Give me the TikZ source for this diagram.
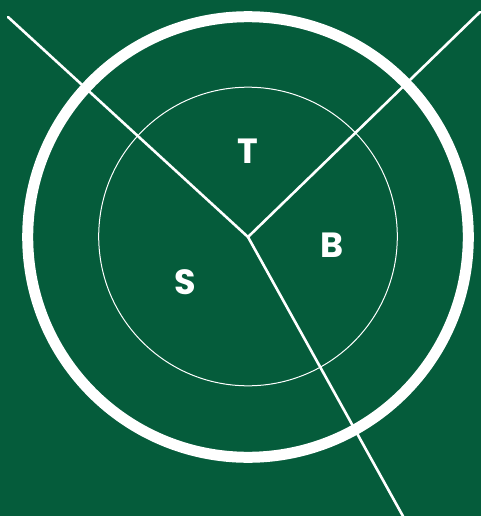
\documentclass[tikz,border=0pt]{standalone}
\usepackage{fontspec}
\setmainfont{Poppins}
\definecolor{bggreen}{RGB}{5,92,59}
\begin{document}
\begin{tikzpicture}[x=1pt,y=-1pt,
  spoke/.style={white,line width=2.6pt},
  lbl/.style={text=white,font=\fontsize{35}{35}\selectfont\bfseries,inner sep=0pt}]
\fill[bggreen] (0,0) rectangle (481,516);
\useasboundingbox (0,0) rectangle (481,516);
\begin{scope}
\clip (0,0) rectangle (481,516);
\coordinate (c) at (248,237);
\coordinate (tl) at (8,17);
\coordinate (tr) at (480,12);
\coordinate (bt) at (404,518);
\draw[white,line width=11pt] (c) circle (220.3);
\draw[white,line width=1pt] (248,236.5) circle (149.3);
\draw[spoke,line cap=round] (c) -- (tl);
\draw[spoke,line cap=round] (c) -- (tr);
\draw[spoke] (c) -- (bt);
\end{scope}
\node[lbl] (t) at (248,151) {T};
\node[lbl] (b) at (332,245) {B};
\node[lbl] (s) at (185,282) {S};
\end{tikzpicture}
\end{document}
